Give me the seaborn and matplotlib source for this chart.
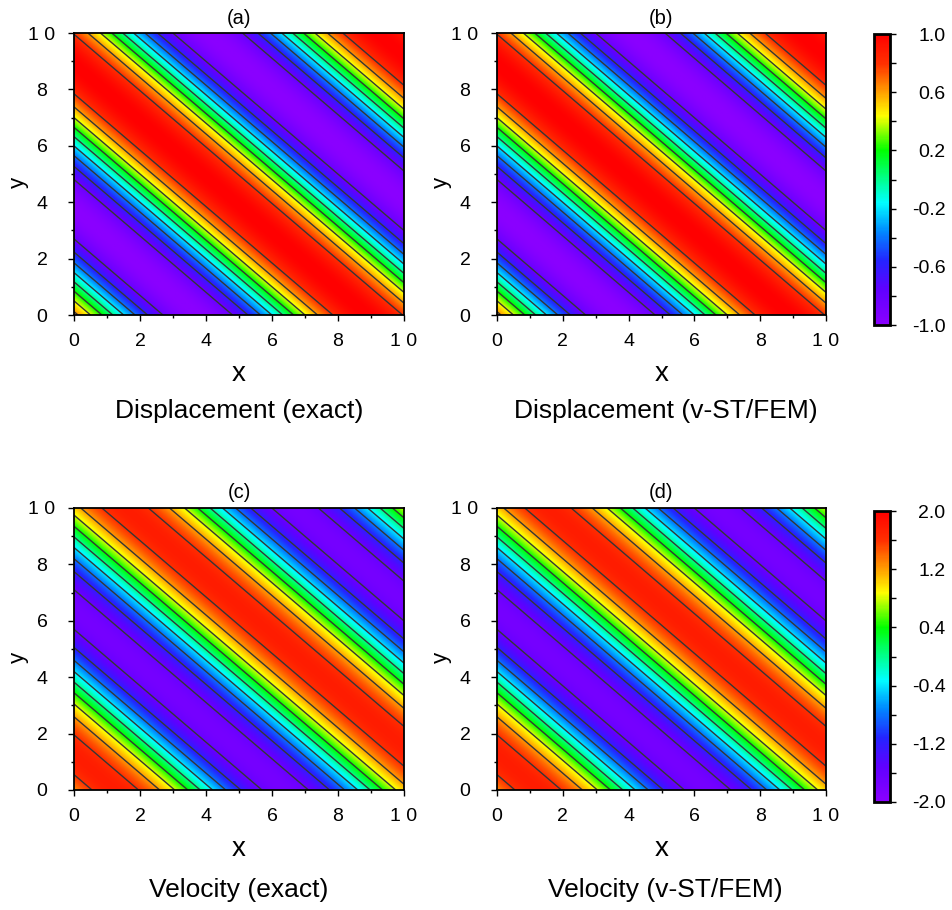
import numpy as np
import matplotlib
matplotlib.use("Agg")
import matplotlib.pyplot as plt
import seaborn as sns
from matplotlib.colors import LinearSegmentedColormap, Normalize
from matplotlib.cm import ScalarMappable

sns.set_theme(style="ticks")
plt.rcParams['font.family'] = ['Liberation Sans', 'DejaVu Sans']
plt.rcParams['text.color'] = 'black'
plt.rcParams['axes.labelcolor'] = 'black'
plt.rcParams['xtick.color'] = 'black'
plt.rcParams['ytick.color'] = 'black'

# ---------------- data ----------------
panel_ids = ["(a)", "(b)", "(c)", "(d)"]
panel_titles = ["Displacement (exact)", "Displacement (v-ST/FEM)",
                "Velocity (exact)", "Velocity (v-ST/FEM)"]
# plane wave travelling along x+y : value = amplitude*cos(2*pi*(x+y-crest)/period)
wave_amplitude = [1.0, 1.0, 1.76, 1.76]
wave_period = [10.3, 10.3, 10.3, 10.3]
wave_crest = [8.9, 8.9, 1.25, 1.25]

disp_levels = [-0.8, -0.6, -0.4, -0.2, 0.0, 0.2, 0.4, 0.6, 0.8]
vel_levels = [-1.6, -1.2, -0.8, -0.4, 0.0, 0.4, 0.8, 1.2, 1.6]
disp_range = [-1.0, 1.0]
vel_range = [-2.0, 2.0]

axis_ticks = [0, 2, 4, 6, 8, 10]
axis_ticklabels = ["0", "2", "4", "6", "8", "1 0"]
axis_minor = [1, 3, 5, 7, 9]

disp_cbar_ticks = [-1.0, -0.8, -0.6, -0.4, -0.2, 0.0, 0.2, 0.4, 0.6, 0.8, 1.0]
disp_cbar_labels = ["-1.0", "", "-0.6", "", "-0.2", "", "0.2", "", "0.6", "", "1.0"]
vel_cbar_ticks = [-2.0, -1.6, -1.2, -0.8, -0.4, 0.0, 0.4, 0.8, 1.2, 1.6, 2.0]
vel_cbar_labels = ["-2.0", "", "-1.2", "", "-0.4", "", "0.4", "", "1.2", "", "2.0"]

# ---------------- styling ----------------
cmap = LinearSegmentedColormap.from_list("rb", [
    (0.00, "#8A00FF"), (0.12, "#6000FF"), (0.22, "#2424FF"),
    (0.32, "#0088FF"), (0.42, "#00FFFF"), (0.60, "#00FF00"),
    (0.72, "#FFFF00"), (0.80, "#FFA000"), (0.90, "#FF3000"),
    (1.00, "#FF0000")])

W, H = 952, 910
fig = plt.figure(figsize=(W / 100, H / 100), dpi=100)
fig.patch.set_facecolor("white")


def fx(px):
    return px / W


def fy(py):
    return 1 - py / H


# axes boxes in pixels: left, right, top, bottom
boxes = [(74, 404, 33, 315), (497, 826, 33, 315),
         (74, 404, 508, 790), (497, 826, 508, 790)]

grid = np.linspace(0, 10, 401)
X, Y = np.meshgrid(grid, grid)

for i in range(4):
    l, r, t, b = boxes[i]
    ax = fig.add_axes([fx(l), fy(b), fx(r - l), (b - t) / H])
    is_disp = i < 2
    vr = disp_range if is_disp else vel_range
    levels = disp_levels if is_disp else vel_levels
    norm = Normalize(vmin=vr[0], vmax=vr[1])
    Z = wave_amplitude[i] * np.cos(2 * np.pi * (X + Y - wave_crest[i]) / wave_period[i])
    ax.imshow(Z, extent=[0, 10, 0, 10], origin="lower", cmap=cmap, norm=norm,
              aspect="auto", interpolation="bilinear")
    ax.contour(X, Y, Z, levels=levels, colors="#363636", linewidths=1.0,
               linestyles="solid")
    ax.set_xlim(0, 10)
    ax.set_ylim(0, 10)
    ax.set_xticks(axis_ticks)
    ax.set_xticklabels(axis_ticklabels)
    ax.set_yticks(axis_ticks)
    ax.set_yticklabels(axis_ticklabels, ha="center")
    ax.set_xticks(axis_minor, minor=True)
    ax.set_yticks(axis_minor, minor=True)
    ax.tick_params(which="both", direction="out", color="black", width=1.0)
    ax.tick_params(which="major", length=4)
    ax.tick_params(which="minor", length=2.5)
    ax.tick_params(axis="x", which="major", labelsize=14, pad=9)
    ax.tick_params(axis="y", which="major", labelsize=14, pad=19)
    for sp in ax.spines.values():
        sp.set_color("black")
        sp.set_linewidth(1.3)
    cx = (l + r) / 2
    fig.text(fx(cx), fy(t - 15), panel_ids[i], ha="center", va="center", fontsize=14.5)
    fig.text(fx(cx), fy(b + 59), "x", ha="center", va="center", fontsize=20)
    fig.text(fx(l - 56), fy((t + b) / 2 + 8), "y", ha="center", va="center",
             fontsize=16, rotation=90)
    sub_y = b + 96 if is_disp else b + 100
    fig.text(fx(cx + (0 if i % 2 == 0 else 4)), fy(sub_y), panel_titles[i],
             ha="center", va="center", fontsize=19)

# colorbars
cbar_boxes = [(874, 890, 34, 325), (874, 890, 511, 802)]
for j in range(2):
    l, r, t, b = cbar_boxes[j]
    cax = fig.add_axes([fx(l), fy(b), fx(r - l), (b - t) / H])
    vr = disp_range if j == 0 else vel_range
    sm = ScalarMappable(norm=Normalize(vmin=vr[0], vmax=vr[1]), cmap=cmap)
    cb = fig.colorbar(sm, cax=cax)
    ticks = disp_cbar_ticks if j == 0 else vel_cbar_ticks
    labels = disp_cbar_labels if j == 0 else vel_cbar_labels
    cb.set_ticks(ticks)
    cb.set_ticklabels(labels)
    cb.outline.set_linewidth(2.0)
    cb.outline.set_edgecolor("black")
    cax.tick_params(direction="out", length=4, width=1.0, color="black",
                    labelsize=14, pad=36)
    for lab in cax.get_yticklabels():
        lab.set_horizontalalignment("right")

fig.savefig("out.png", dpi=100, facecolor="white")
